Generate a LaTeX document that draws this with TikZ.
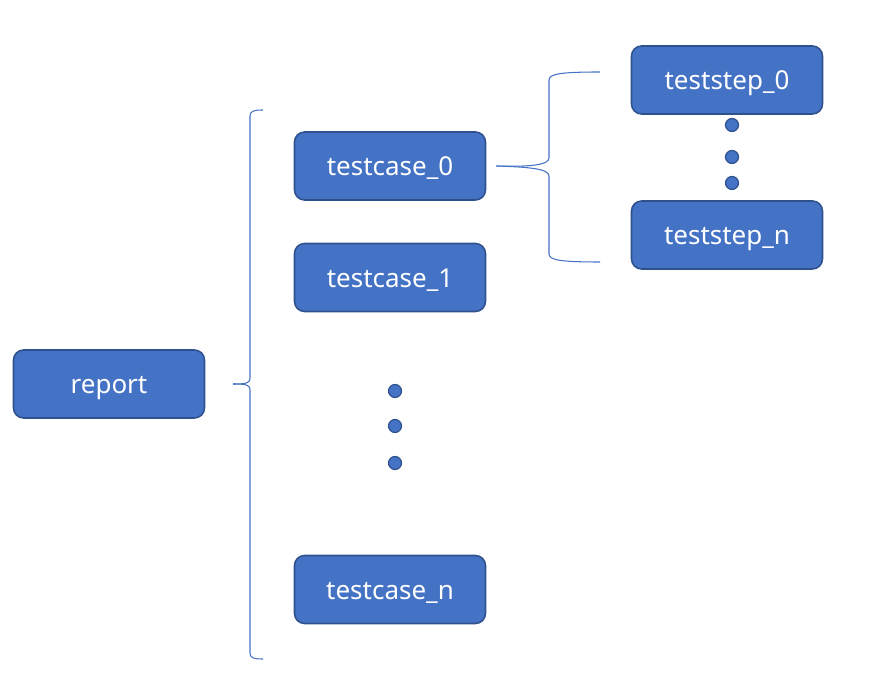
\documentclass[tikz,border=0pt]{standalone}
\usepackage{fontspec}
\setmainfont{Noto Sans}
\usetikzlibrary{calc}
\definecolor{boxblue}{HTML}{4472C4}
\definecolor{boxedge}{HTML}{2F528F}
\begin{document}
\begin{tikzpicture}[
        x=0.02cm, y=-0.02cm,
        bx/.style={fill=boxblue, draw=boxedge, line width=0.9pt, rounded corners=0.2cm,
          minimum width=3.82cm, minimum height=1.36cm, text=white, text height=2.3ex, text depth=0.2ex,
          font=\fontsize{14.8}{16}\selectfont},
        dt/.style={fill=boxblue, draw=boxedge, line width=0.7pt, circle, minimum size=0.26cm, inner sep=0pt},
        br/.style={draw=boxblue, line width=0.6pt}
      ]
      \useasboundingbox (0,0) rectangle (895,688);
      \node[bx] (rep) at (109,384) {report};
      \node[bx] (tc0) at (390,166) {testcase\_0};
      \node[bx] (tc1) at (390,277.5) {testcase\_1};
      \node[bx] (tcn) at (390,589.5) {testcase\_n};
      \node[bx] (ts0) at (727,80) {teststep\_0};
      \node[bx] (tsn) at (727,235) {teststep\_n};
      \foreach \y [count=\i] in {391,426,463} {
        \node[dt] (d\i) at (395,\y) {};
      }
      \foreach \y [count=\i] in {125,157,183} {
        \node[dt] (s\i) at (732,\y) {};
      }
      % brace from report to the testcases
      \coordinate (bt) at (233,384);
      \coordinate (bu) at (263,110);
      \coordinate (bd) at (263,659);
      \draw[br] (bu) .. controls (254,110) and (250,111) .. (250,116) -- (250,378)
        .. controls (250,383) and (247,384) .. (bt);
      \draw[br] (bt) .. controls (247,384) and (250,385) .. (250,390) -- (250,653)
        .. controls (250,658) and (254,659) .. (bd);
      % brace from testcase_0 to the teststeps
      \coordinate (ct) at ($(tc0.east)+(10,0)$);
      \coordinate (cu) at (600,72);
      \coordinate (cd) at (600,262);
      \draw[br] (cu) .. controls (560,72) and (549,74) .. (549,80) -- (549,158)
        .. controls (549,165) and (530,167) .. (ct);
      \draw[br] (ct) .. controls (530,167) and (549,169) .. (549,176) -- (549,254)
        .. controls (549,260) and (560,262) .. (cd);
    \end{tikzpicture}
\end{document}
